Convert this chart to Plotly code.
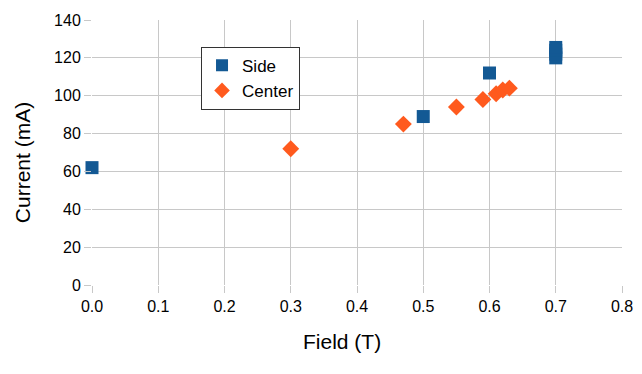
import plotly.graph_objects as go

side_field = [0.0, 0.5, 0.6, 0.7, 0.7, 0.7, 0.7]
side_current = [62.0, 89.0, 112.0, 120.0, 122.0, 124.0, 125.5]

center_field = [0.3, 0.47, 0.55, 0.59, 0.61, 0.62, 0.63]
center_current = [72.0, 85.0, 94.0, 98.0, 101.0, 103.0, 104.0]

x_ticks = [0.0, 0.1, 0.2, 0.3, 0.4, 0.5, 0.6, 0.7, 0.8]
y_ticks = [0, 20, 40, 60, 80, 100, 120, 140]

fig = go.Figure()
fig.add_trace(go.Scatter(x=side_field, y=side_current, mode="markers", name="Side",
                         cliponaxis=False,
                         marker=dict(symbol="square", size=13, color="#135994")))
fig.add_trace(go.Scatter(x=center_field, y=center_current, mode="markers", name="Center",
                         cliponaxis=False,
                         marker=dict(symbol="diamond", size=13, color="#ff5a1e")))

font = "Liberation Sans, Arial, sans-serif"
grid = "#c8c8c8"
# page body has an 8px default margin, so the figure is sized to fit the window
fig.update_layout(
    width=626, height=358,
    margin=dict(l=84, r=12, t=12, b=81),
    paper_bgcolor="white", plot_bgcolor="white",
    font=dict(family=font, size=16, color="black"),
    showlegend=True,
    legend=dict(x=0.2057, y=0.899, xanchor="left", yanchor="top",
                bordercolor="#333333", borderwidth=1, bgcolor="white",
                font=dict(size=17), tracegroupgap=0, itemsizing="constant",
                entrywidth=79, entrywidthmode="pixels"),
    xaxis=dict(range=[0, 0.8], tickvals=x_ticks, ticktext=[f"{v:.1f}" for v in x_ticks],
               showgrid=True, gridcolor=grid, zeroline=False, showline=False,
               ticks="outside", ticklen=7, tickcolor=grid, automargin=False,
               tickfont=dict(size=16)),
    yaxis=dict(range=[0, 140], tickvals=y_ticks, showgrid=True, gridcolor=grid,
               zeroline=False, showline=False, ticks="outside", ticklen=7,
               tickcolor=grid, automargin=False, tickfont=dict(size=16)),
    annotations=[
        dict(text="Field (T)", xref="paper", yref="paper", x=0.471, y=-0.215,
             xanchor="center", yanchor="middle", showarrow=False,
             font=dict(size=21, family=font, color="black")),
        dict(text="Current (mA)", xref="paper", yref="paper", x=-0.132, y=0.46,
             xanchor="center", yanchor="middle", showarrow=False, textangle=-90,
             font=dict(size=21, family=font, color="black")),
    ],
)
fig.write_html("out.html")
